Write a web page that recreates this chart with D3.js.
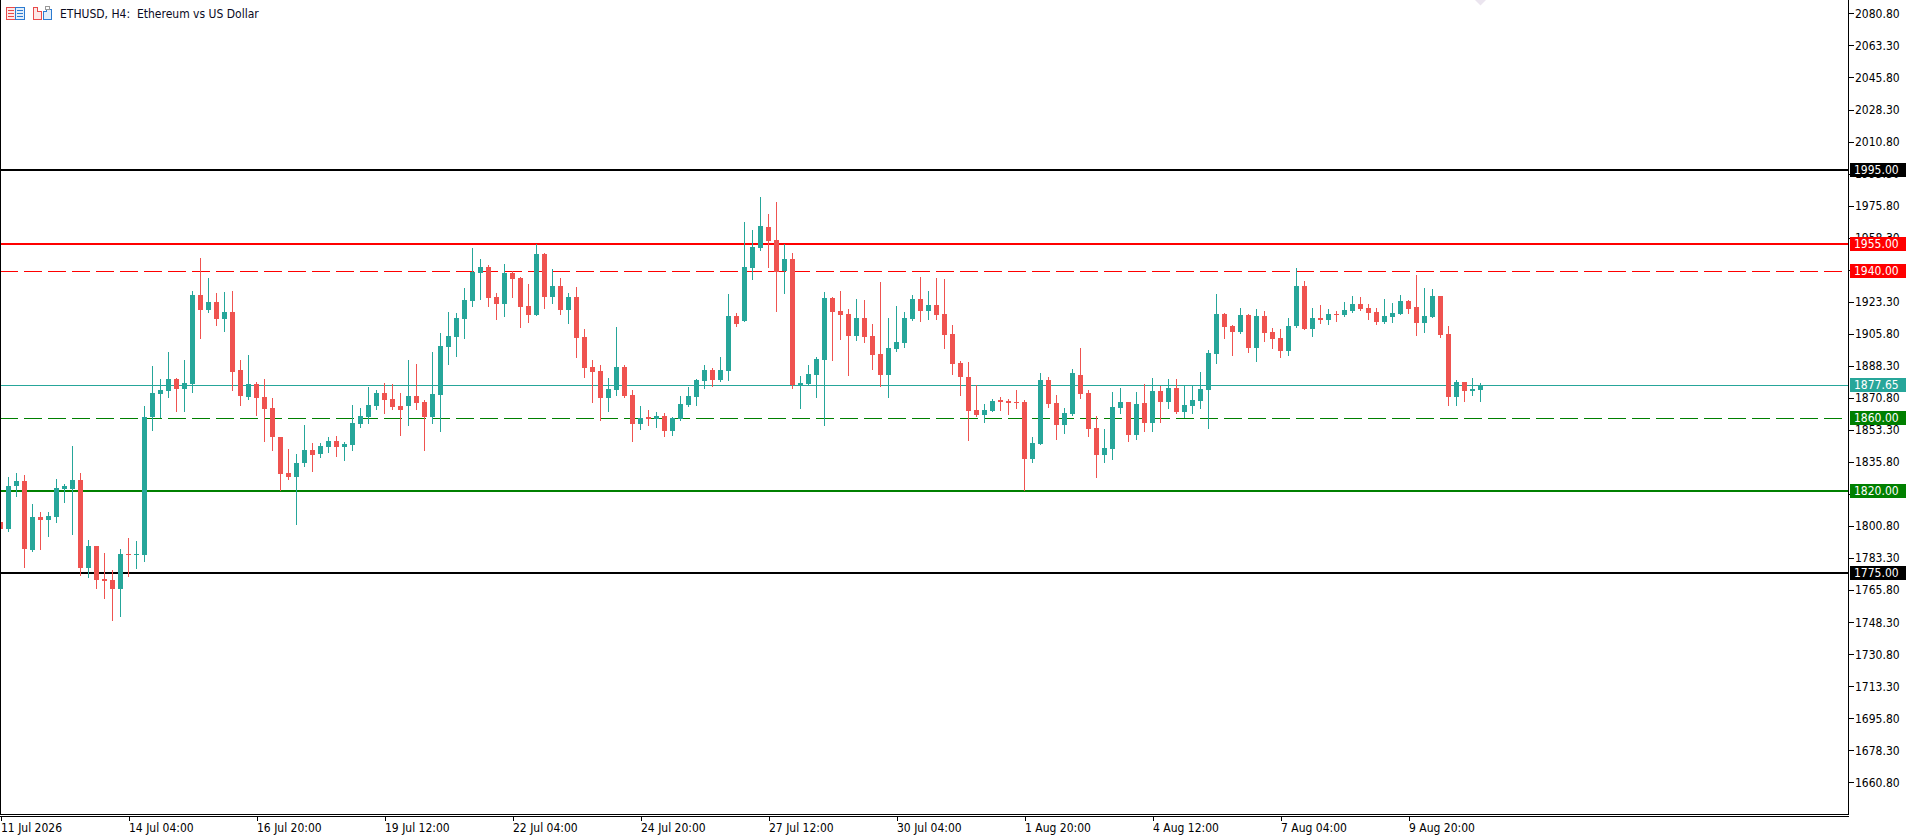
<!DOCTYPE html>
<html>
<head>
<meta charset="utf-8">
<script src="https://cdn.jsdelivr.net/npm/d3@7"></script>
<style>
html,body{margin:0;padding:0;background:#fff;overflow:hidden;}
svg{display:block;}
text{font-family:'DejaVu Sans Condensed','DejaVu Sans',sans-serif;font-stretch:condensed;font-size:12px;}
</style>
</head>
<body>
<svg id="chart" width="1911" height="838"></svg>
<script>
// ---- DATA ----
const chartTitle = "ETHUSD, H4:  Ethereum vs US Dollar";
const opens = [1803,1799.2,1822.5,1825.2,1787.7,1805.6,1804.1,1805.6,1820.9,1820.9,1825.8,1777.9,1789.7,1771.7,1771.1,1766.4,1785.3,1785.0,1785.0,1860.2,1873.0,1874.6,1881.0,1875.7,1878.4,1926.9,1918.9,1923.0,1913.9,1917.6,1885.9,1871.3,1878.2,1871.3,1865.3,1849.5,1829.6,1827.4,1835.3,1842.2,1840.0,1843.9,1847.1,1843.9,1844.9,1856.4,1860.2,1866.4,1873.3,1870.1,1866.2,1866.2,1871.7,1868.4,1860.1,1872.2,1898.5,1903.9,1913.8,1923.6,1938.9,1942.2,1925.8,1922.0,1938.9,1936.2,1920.9,1915.9,1949.3,1925.8,1931.8,1918.7,1925.8,1903.9,1887.5,1885.4,1870.7,1875.0,1887.6,1872.3,1856.5,1860.3,1859.4,1860.8,1852.6,1859.2,1866.8,1871.2,1879.9,1886.0,1880.5,1885.4,1915.5,1912.7,1941.7,1952.6,1964.1,1957.0,1940.0,1946.6,1877.8,1878.3,1883.2,1891.4,1925.3,1918.2,1916.5,1904.5,1914.4,1904.5,1894.7,1883.2,1897.5,1900.7,1913.8,1924.8,1918.2,1921.5,1916.6,1905.6,1889.8,1882.2,1864.1,1861.4,1863.6,1869.6,1869.1,1868.5,1868.5,1837.4,1845.6,1880.5,1868.0,1856.0,1862.0,1883.3,1873.4,1854.3,1839.6,1842.8,1865.2,1868.5,1850.5,1868.0,1857.0,1874.5,1868.5,1876.2,1863.0,1866.3,1869.1,1875.0,1894.7,1916.5,1910.0,1906.7,1916.0,1898.0,1915.5,1906.7,1903.4,1896.3,1910.0,1931.8,1908.4,1914.4,1913.3,1916.5,1916.0,1918.2,1922.0,1919.8,1917.6,1912.2,1914.9,1916.5,1923.6,1920.4,1911.6,1914.9,1926.4,1905.6,1871.2,1879.4,1874.5,1875.0];
const highs = [1808,1827.4,1829.6,1828.5,1812.7,1808.3,1808.3,1826.3,1823.6,1844.4,1829.6,1793.2,1789.7,1785.9,1776.6,1788.3,1794.3,1792.4,1866.4,1888.1,1881.0,1895.7,1881.5,1891.4,1929.1,1947.0,1936.2,1928.0,1928.5,1929.1,1891.4,1894.1,1879.3,1881.0,1870.8,1849.5,1842.7,1840.2,1855.9,1846.0,1846.0,1849.3,1849.9,1846.6,1866.8,1865.2,1876.6,1875.0,1878.8,1878.3,1873.3,1891.4,1889.2,1869.5,1895.7,1906.1,1917.6,1917.0,1930.7,1952.5,1946.5,1943.3,1928.0,1943.8,1940.0,1936.7,1932.9,1954.7,1949.8,1941.1,1936.2,1928.0,1931.2,1908.3,1891.4,1888.7,1881.6,1909.4,1888.7,1875.0,1866.3,1864.1,1863.0,1862.5,1860.5,1871.8,1876.7,1881.0,1888.7,1887.1,1893.1,1927.5,1917.1,1966.8,1962.4,1980.4,1971.2,1977.7,1954.8,1949.9,1882.7,1888.7,1893.1,1928.6,1926.0,1929.1,1919.3,1924.7,1924.2,1911.1,1934.0,1914.4,1920.9,1917.7,1926.9,1936.8,1929.1,1936.2,1935.7,1910.6,1890.9,1890.4,1877.8,1867.4,1870.1,1871.2,1870.1,1875.1,1869.6,1849.4,1884.3,1882.2,1872.3,1865.2,1886.5,1898.0,1875.1,1860.9,1853.8,1874.0,1876.2,1868.8,1874.0,1878.3,1881.6,1877.2,1881.1,1881.1,1877.2,1877.2,1884.9,1896.9,1927.5,1917.1,1910.5,1919.8,1916.5,1919.3,1918.2,1908.9,1908.4,1914.4,1941.7,1934.6,1919.8,1921.5,1919.3,1918.2,1923.1,1926.4,1925.8,1922.0,1919.8,1924.7,1922.6,1926.9,1924.2,1937.8,1930.7,1930.2,1926.6,1910.0,1880.5,1879.6,1881.6,1878.9];
const lows = [1796,1798.1,1817.2,1778.4,1787.2,1788.3,1795.4,1802.8,1813.9,1796.5,1774.1,1773.0,1766.9,1761.5,1749.5,1751.6,1773.5,1777.9,1781.7,1853.3,1860.2,1871.3,1863.7,1863.7,1874.1,1903.6,1917.8,1910.7,1907.4,1875.1,1866.9,1870.2,1861.5,1847.3,1842.4,1820.7,1826.3,1801.9,1833.5,1831.0,1838.4,1841.1,1838.9,1836.8,1842.2,1854.8,1857.0,1864.6,1862.4,1864.6,1850.4,1855.9,1864.6,1842.2,1857.0,1852.6,1889.2,1893.6,1903.4,1920.9,1924.7,1920.9,1913.8,1915.4,1925.8,1909.4,1912.1,1915.9,1919.8,1922.5,1916.5,1911.6,1893.0,1882.1,1868.4,1858.7,1863.6,1872.3,1871.2,1847.2,1853.7,1855.9,1854.8,1849.9,1850.5,1858.7,1866.5,1866.8,1876.1,1877.2,1879.9,1880.5,1910.0,1912.7,1935.7,1951.5,1942.2,1918.2,1928.0,1876.1,1865.2,1877.8,1871.2,1855.9,1891.4,1902.9,1883.2,1902.3,1901.3,1886.5,1877.2,1871.2,1896.4,1898.5,1913.3,1912.7,1913.8,1913.8,1898.0,1883.8,1872.3,1847.8,1860.9,1857.6,1863.6,1864.1,1862.0,1865.2,1820.4,1835.7,1845.6,1865.8,1848.3,1851.6,1861.4,1870.7,1849.9,1827.5,1835.7,1837.4,1862.5,1847.2,1848.3,1852.7,1852.7,1857.6,1865.2,1862.5,1860.3,1862.5,1865.2,1854.3,1889.8,1903.4,1894.2,1906.2,1895.8,1890.9,1901.8,1898.0,1893.1,1894.2,1909.4,1908.4,1904.5,1911.6,1911.1,1912.7,1915.5,1917.6,1918.7,1913.8,1911.1,1911.6,1912.2,1916.5,1917.1,1905.1,1906.7,1914.9,1904.0,1866.8,1866.8,1869.1,1872.3,1869.1];
const closes = [1799,1822.5,1825.2,1788.3,1805.6,1804.1,1806.5,1821.4,1822.5,1825.8,1777.9,1789.7,1771.3,1770.8,1766.4,1785.3,1785.0,1785.3,1860.2,1873.3,1875.0,1881.0,1875.7,1878.8,1926.9,1918.9,1923.0,1913.9,1917.6,1885.0,1871.9,1878.2,1870.8,1864.8,1849.5,1829.2,1827.4,1835.3,1842.2,1839.7,1844.4,1847.1,1843.9,1845.5,1857.0,1860.8,1866.8,1873.3,1869.7,1865.7,1864.1,1871.7,1867.9,1860.1,1872.8,1899.0,1904.5,1914.3,1924.1,1939.4,1942.2,1925.2,1922.0,1938.9,1935.6,1920.3,1915.9,1949.3,1925.8,1931.8,1918.7,1925.8,1903.4,1887.0,1884.8,1870.7,1875.6,1887.6,1871.8,1856.5,1859.7,1859.4,1860.8,1852.6,1859.7,1867.4,1871.8,1880.5,1886.0,1880.5,1886.0,1915.5,1911.1,1942.2,1953.1,1964.6,1956.4,1939.5,1946.6,1877.8,1878.9,1883.8,1892.0,1925.3,1917.6,1916.0,1904.5,1914.4,1904.0,1894.2,1883.2,1898.0,1901.3,1914.4,1924.8,1918.2,1921.5,1916.0,1905.1,1889.3,1882.2,1863.6,1861.4,1864.1,1869.1,1868.5,1868.0,1868.0,1837.4,1846.1,1880.5,1867.4,1856.0,1862.5,1884.3,1872.9,1853.8,1839.6,1843.4,1865.8,1868.5,1850.5,1867.4,1857.0,1874.5,1868.5,1876.2,1863.0,1866.9,1869.6,1875.6,1895.2,1916.5,1909.4,1906.7,1916.0,1898.0,1915.5,1906.2,1902.9,1896.3,1910.0,1931.8,1908.4,1914.4,1913.3,1916.5,1916.0,1918.7,1922.0,1919.3,1917.1,1912.2,1915.5,1917.1,1923.6,1919.3,1911.6,1915.5,1926.4,1905.1,1871.2,1879.4,1874.5,1875.6,1877.65];

const timeLabels = ["11 Jul 2026","14 Jul 04:00","16 Jul 20:00","19 Jul 12:00","22 Jul 04:00","24 Jul 20:00","27 Jul 12:00","30 Jul 04:00","1 Aug 20:00","4 Aug 12:00","7 Aug 04:00","9 Aug 20:00"];
const timeLabelBars = [0,16,32,48,64,80,96,112,128,144,160,176];
const priceTicks = [2080.8,2063.3,2045.8,2028.3,2010.8,1993.3,1975.8,1958.3,1940.8,1923.3,1905.8,1888.3,1870.8,1853.3,1835.8,1818.3,1800.8,1783.3,1765.8,1748.3,1730.8,1713.3,1695.8,1678.3,1660.8];

const levelPrices = [1995, 1955, 1940, 1877.65, 1860, 1820, 1775];
const levelColors = ["#000000","#ff0000","#ff0000","#26a69a","#008000","#008000","#000000"];
const levelStyles = ["solid","solid","dashed","thin","dashed","solid","solid"];

// ---- LAYOUT ----
const W = 1911, H = 838;
const plotRight = 1848, plotBottom = 814;
const bullColor = "#26a69a", bearColor = "#ef5350";

const svg = d3.select("#chart");

const x = d3.scaleLinear().domain([0, 1]).range([0.5, 8.5]);
const y = d3.scaleLinear().domain([1660.8, 2080.8]).range([782.4, 13.4]);
const bodyW = 5;

const bars = opens.map((o, i) => ({i, o, h: highs[i], l: lows[i], c: closes[i]}));

// clip for plot
svg.append("defs").append("clipPath").attr("id","plotclip")
  .append("rect").attr("x",1).attr("y",0).attr("width",plotRight-1).attr("height",plotBottom);

const plot = svg.append("g").attr("clip-path","url(#plotclip)");

// level lines
levelPrices.forEach((p, k) => {
  const st = levelStyles[k];
  const yy = st === "solid" ? Math.round(y(p)) : Math.round(y(p)) + 0.5;
  const ln = plot.append("line").attr("x1",0).attr("x2",plotRight).attr("y1",yy).attr("y2",yy)
    .attr("stroke",levelColors[k]).attr("shape-rendering","crispEdges")
    .attr("stroke-width", st === "solid" ? 2 : 1);
  if (st === "dashed") ln.attr("stroke-dasharray","18,6");
});

// candles
const cg = plot.append("g").attr("shape-rendering","crispEdges");
cg.selectAll("line.wick").data(bars).join("line").attr("class","wick")
  .attr("x1", d => Math.floor(x(d.i)) + 0.5).attr("x2", d => Math.floor(x(d.i)) + 0.5)
  .attr("y1", d => Math.round(y(d.h))).attr("y2", d => Math.round(y(d.l)) + 1)
  .attr("stroke", d => d.c >= d.o ? bullColor : bearColor).attr("stroke-width",1);
cg.selectAll("rect.body").data(bars).join("rect").attr("class","body")
  .attr("x", d => Math.floor(x(d.i)) - 2)
  .attr("width", bodyW)
  .attr("y", d => Math.round(y(Math.max(d.o, d.c))))
  .attr("height", d => Math.max(1, Math.round(y(Math.min(d.o, d.c))) - Math.round(y(Math.max(d.o, d.c)))))
  .attr("fill", d => d.c >= d.o ? bullColor : bearColor);

// frame
const fr = svg.append("g").attr("shape-rendering","crispEdges").attr("stroke","#000").attr("stroke-width",1);
fr.append("line").attr("x1",0.5).attr("x2",0.5).attr("y1",0).attr("y2",plotBottom+1);
fr.append("line").attr("x1",plotRight+0.5).attr("x2",plotRight+0.5).attr("y1",0).attr("y2",plotBottom+1);
fr.append("line").attr("x1",0).attr("x2",plotRight+1).attr("y1",plotBottom+0.5).attr("y2",plotBottom+0.5);
fr.append("line").attr("x1",0).attr("x2",plotRight+1).attr("y1",plotBottom+2.5).attr("y2",plotBottom+2.5);

// price axis
const yAxis = d3.axisRight(y).tickValues(priceTicks).tickSize(5).tickPadding(1)
  .tickFormat(d3.format(".2f"));
const ya = svg.append("g").attr("transform",`translate(${plotRight+1},0)`).call(yAxis);
ya.select(".domain").remove();
ya.selectAll(".tick line").attr("stroke","#000").attr("shape-rendering","crispEdges");
ya.selectAll(".tick text").attr("fill","#000").style("font-size","12px");

// level price boxes
levelPrices.forEach((p, k) => {
  const yy = y(p);
  svg.append("rect").attr("x",plotRight+2).attr("y",Math.round(yy)-7).attr("width",56).attr("height",14)
    .attr("fill",levelColors[k]).attr("shape-rendering","crispEdges");
  svg.append("text").attr("x",plotRight+6).attr("y",Math.round(yy)).attr("dy","0.36em")
    .attr("fill","#fff").text(d3.format(".2f")(p));
});

// time axis
const xAxis = d3.axisBottom(x).tickValues(timeLabelBars).tickSize(4).tickPadding(2)
  .tickFormat((d, k) => timeLabels[k]);
const xa = svg.append("g").attr("transform",`translate(0,${plotBottom+3})`).call(xAxis);
xa.select(".domain").remove();
xa.selectAll(".tick line").attr("stroke","#000").attr("shape-rendering","crispEdges")
  .attr("transform","translate(0,0)");
xa.selectAll(".tick text").attr("fill","#000").attr("text-anchor","start").attr("x",0).style("font-size","12px");

// title + icons
const ic = svg.append("g").attr("shape-rendering","crispEdges");
ic.append("rect").attr("x",6.5).attr("y",7.5).attr("width",9).attr("height",12).attr("fill","#fde8e8").attr("stroke","#e84a4a");
ic.append("rect").attr("x",15.5).attr("y",7.5).attr("width",9).attr("height",12).attr("fill","#e3eefa").attr("stroke","#2c7bd0");
[10.5,13.5,16.5].forEach(v => {
  ic.append("line").attr("x1",8).attr("x2",14).attr("y1",v).attr("y2",v).attr("stroke","#e84a4a");
  ic.append("line").attr("x1",17).attr("x2",23).attr("y1",v).attr("y2",v).attr("stroke","#2c7bd0");
});
ic.append("path").attr("d","M33.5,7.5 H37.5 V11.5 H41.5 V19.5 H33.5 Z").attr("fill","#fde8e8").attr("stroke","#e84a4a");
ic.append("path").attr("d","M43.5,11.5 H46.5 V9.5 H51.5 V19.5 H43.5 Z").attr("fill","#e3eefa").attr("stroke","#2c7bd0");
ic.append("rect").attr("x",45.5).attr("y",6.5).attr("width",4).attr("height",3).attr("fill","#fff").attr("stroke","#999");
svg.append("text").attr("x",60).attr("y",14).attr("dy","0.36em").attr("fill","#0a0a1e")
  .attr("xml:space","preserve").style("white-space","pre").text(chartTitle);

// small marker at top
svg.append("path").attr("d","M1475,0 L1486,0 L1480.5,5.5 Z").attr("fill","#ebe5ef");
</script>
</body>
</html>
